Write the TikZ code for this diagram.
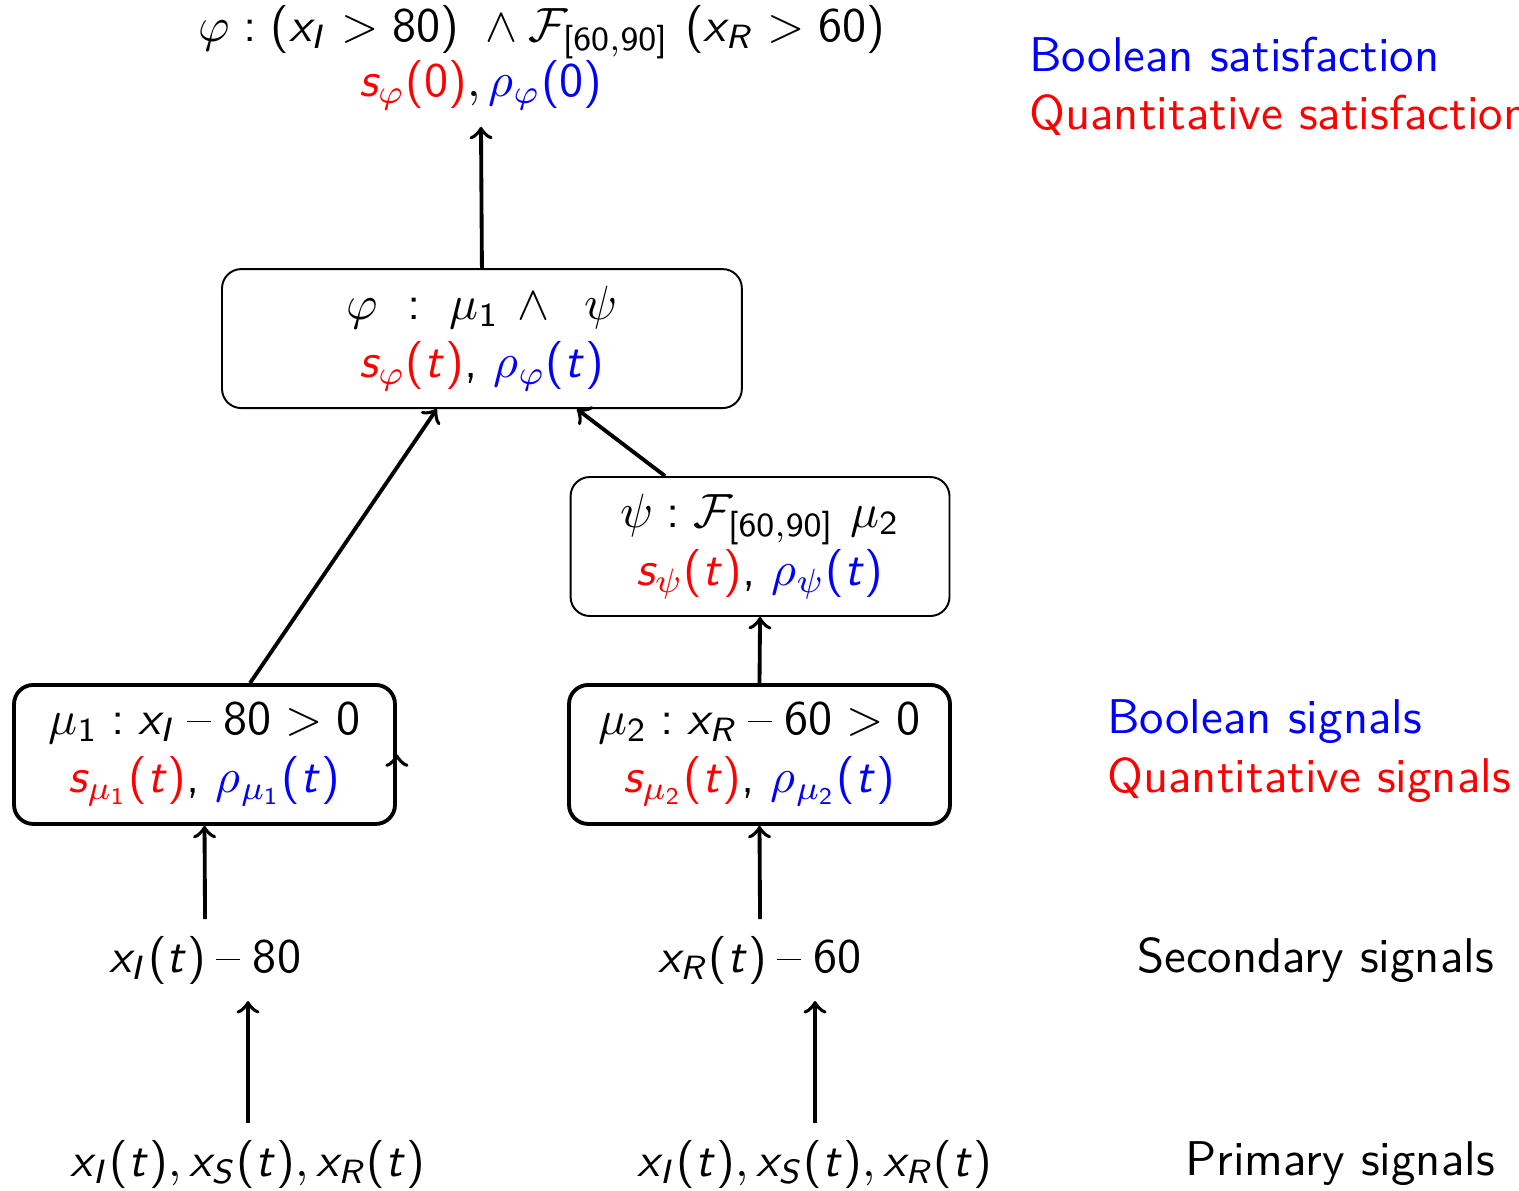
\documentclass[tikz,border=0pt]{standalone}
\usepackage{amsmath,amssymb}
\usetikzlibrary{arrows.meta, positioning, calc}
\renewcommand{\familydefault}{\sfdefault}
% sans digits, sans symbols and sans italic latin letters in math
\SetSymbolFont{operators}{normal}{OT1}{cmss}{m}{n}
\DeclareSymbolFont{sfital}{OT1}{cmss}{m}{it}
\DeclareSymbolFont{sfsym}{T1}{lmss}{m}{n}
\DeclareMathSymbol{s}{\mathalpha}{sfital}{`s}
\DeclareMathSymbol{t}{\mathalpha}{sfital}{`t}
\DeclareMathSymbol{x}{\mathalpha}{sfital}{`x}
\DeclareMathSymbol{I}{\mathalpha}{sfital}{`I}
\DeclareMathSymbol{R}{\mathalpha}{sfital}{`R}
\DeclareMathSymbol{S}{\mathalpha}{sfital}{`S}
\DeclareMathSymbol{-}{\mathbin}{sfsym}{21}

\begin{document}
\begin{tikzpicture}[
    bx/.style={draw, rounded corners, align=center, minimum height=1.016cm, inner sep=2pt},
    bxt/.style={bx, thick},
    lg/.style={anchor=west, align=left, font=\fontsize{10.15}{12.1}\selectfont},
    >=to]
\useasboundingbox (0,0) rectangle (11.104,8.699);
% formula tree
\node (spec) at (3.962,8.465) {$\varphi : (x_I > 80)\ \wedge \mathcal{F}_{[60,90]}\ (x_R > 60)$};
\node (root) at (3.516,8.078) {${\color{red}s_\varphi(0)},{\color{blue}\rho_\varphi(0)}$};
\node[bx, minimum width=3.80cm] (phi) at (3.523,6.224) {$\varphi\ :\ \mu_1\,\wedge\ \,\psi$\\ {\color{red}$s_\varphi(t)$}, {\color{blue}$\rho_\varphi(t)$}};
\node[bx, minimum width=2.77cm] (psi) at (5.556,4.704) {$\psi : \mathcal{F}_{[60,90]}\ \mu_2$\\ {\color{red}$s_\psi(t)$}, {\color{blue}$\rho_\psi(t)$}};
\node[bxt, minimum width=2.785cm] (mu1) at (1.495,3.184) {$\mu_1 : x_I - 80 > 0$\\ {\color{red}$s_{\mu_1}(t)$}, {\color{blue}$\rho_{\mu_1}(t)$}};
\node[bxt, minimum width=2.785cm] (mu2) at (5.552,3.184) {$\mu_2 : x_R - 60 > 0$\\ {\color{red}$s_{\mu_2}(t)$}, {\color{blue}$\rho_{\mu_2}(t)$}};
% signals
\node (sec1) at (1.499,1.681) {$x_I(t) - 80$};
\node (sec2) at (5.556,1.681) {$x_R(t) - 60$};
\node (prim1) at (1.813,0.190) {$x_I(t), x_S(t), x_R(t)$};
\node (prim2) at (5.958,0.190) {$x_I(t), x_S(t), x_R(t)$};
% legend
\node[lg] (lsat) at (7.40,8.070) {{\color{blue}Boolean satisfaction}\\ {\color{red}Quantitative satisfaction}};
\node[lg] (lsig) at (7.97,3.209) {{\color{blue}Boolean signals}\\ {\color{red}Quantitative signals}};
\node[lg] (lsec) at (8.19,1.681) {Secondary signals};
\node[lg] (lprim) at (8.54,0.190) {Primary signals};
% arrows
\draw[->, thick] (phi.north) -- (root.south);
\draw[->, thick] ([xshift=0.333cm]mu1.north) -- ([xshift=-0.33cm]phi.south);
\draw[->, thick] ([xshift=-0.694cm]psi.north) -- ([xshift=0.694cm]phi.south);
\draw[->, thick] (mu2.north) -- (psi.south);
\draw[->, thick] ([yshift=-1pt]mu1.east) -- (mu1.east);
\draw[->, thick] (sec1.north) -- (mu1.south);
\draw[->, thick] (sec2.north) -- (mu2.south);
\draw[->, thick] (prim1.north) -- (prim1.north |- sec1.south);
\draw[->, thick] (prim2.north) -- (prim2.north |- sec2.south);
\end{tikzpicture}
\end{document}
